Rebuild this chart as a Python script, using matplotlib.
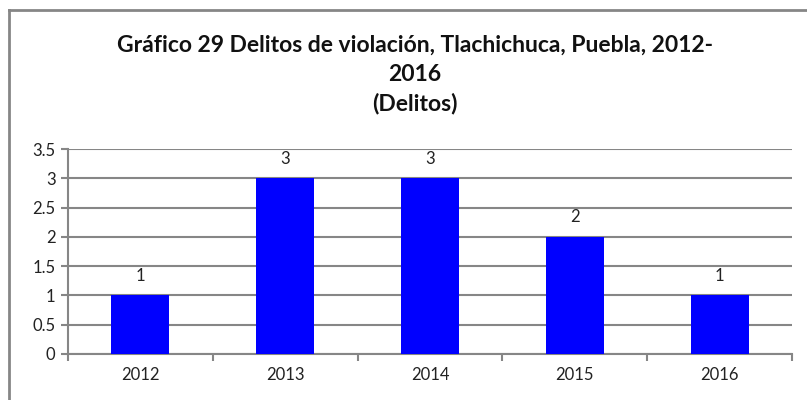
import matplotlib
matplotlib.use("Agg")
import matplotlib.pyplot as plt
from matplotlib.lines import Line2D

years = ["2012", "2013", "2014", "2015", "2016"]
delitos = [1, 3, 3, 2, 1]
yticks = [0, 0.5, 1, 1.5, 2, 2.5, 3, 3.5]
ytick_labels = ["0", "0.5", "1", "1.5", "2", "2.5", "3", "3.5"]
title = "Gráfico 29 Delitos de violación, Tlachichuca, Puebla, 2012-\n2016\n(Delitos)"

W, H = 807, 400
fig = plt.figure(figsize=(W / 100, H / 100), dpi=100)
fig.patch.set_facecolor("white")
plt.rcParams["font.family"] = ["Lato", "DejaVu Sans"]

grey = "#868686"
# chart area frame (left and top edges)
fig.add_artist(Line2D([9 / W, 9 / W], [0, 1 - 10 / H], color=grey, lw=2, transform=fig.transFigure))
fig.add_artist(Line2D([9 / W, 1], [1 - 10 / H, 1 - 10 / H], color=grey, lw=2, transform=fig.transFigure))

left, right, top, bottom = 68, 792, 149, 354
ax = fig.add_axes([left / W, 1 - bottom / H, (right - left) / W, (bottom - top) / H])

x = list(range(len(years)))
ax.bar(x, delitos, width=0.4, color="#0000FF", zorder=3)
for xi, v in zip(x, delitos):
    ax.text(xi, v + 0.2, str(v), ha="center", va="bottom", fontsize=12, color="#222222")

ax.set_xlim(-0.5, len(years) - 0.5)
ax.set_ylim(0, 3.5)
ax.set_yticks(yticks)
ax.set_yticklabels(ytick_labels, fontsize=12, color="#222222")
ax.set_xticks(x)
ax.set_xticklabels(years, fontsize=12, color="#222222")
ax.tick_params(axis="x", length=0, pad=9)
ax.set_xticks([i - 0.5 for i in range(len(years) + 1)], minor=True)
ax.tick_params(axis="x", which="minor", length=5, width=1.5, color=grey)
ax.tick_params(axis="y", length=5, width=1.5, color=grey, pad=4)
ax.yaxis.grid(True, color=grey, lw=1.5, zorder=0)
for s in ["top", "right"]:
    ax.spines[s].set_visible(False)
for s in ["left", "bottom"]:
    ax.spines[s].set_color(grey)
    ax.spines[s].set_linewidth(1.5)

fig.text(415 / W, 1 - 35 / H, title, ha="center", va="top", fontsize=16.5,
         fontweight="bold", linespacing=1.45, color="#111111")

fig.savefig("out.png", dpi=100)
